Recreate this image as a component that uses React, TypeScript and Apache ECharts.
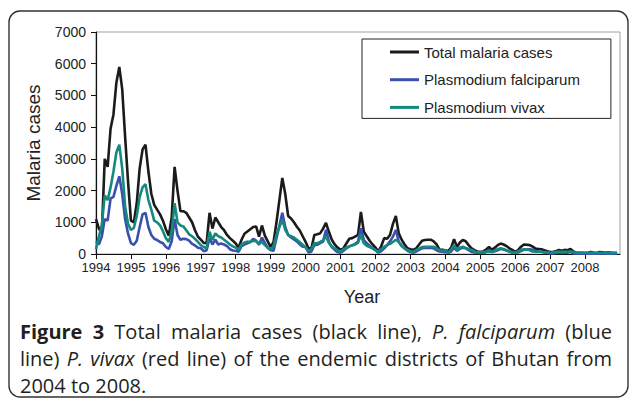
import React, { useEffect, useRef } from 'react';
import * as echarts from 'echarts';

// Year tick labels (one tick per January)
const years = [1994, 1995, 1996, 1997, 1998, 1999, 2000, 2001, 2002, 2003, 2004, 2005, 2006, 2007, 2008];

// Monthly malaria cases, Jan 1994 .. Dec 2008 (12 values per row)
const total = [
  1100, 800, 650, 3000, 2750, 3950, 4400, 5400, 5900, 5200, 3700, 2300,
  1050, 1000, 1600, 2700, 3300, 3450, 2600, 1900, 1550, 1400, 1250, 1050,
  780, 580, 1150, 2750, 2000, 1350, 1350, 1300, 1150, 1000, 750, 550,
  450, 350, 340, 1300, 800, 1150, 1000, 850, 750, 600, 500, 420,
  330, 200, 450, 640, 710, 780, 850, 870, 550, 900, 580, 400,
  220, 380, 1000, 1700, 2400, 1900, 1200, 1120, 1000, 860, 740, 560,
  380, 180, 180, 600, 620, 650, 800, 980, 700, 450, 300, 200,
  130, 180, 330, 480, 500, 550, 600, 1330, 700, 560, 420, 300,
  200, 80, 250, 500, 480, 600, 950, 1200, 650, 450, 300, 180,
  150, 130, 180, 300, 420, 440, 450, 450, 400, 300, 140, 130,
  120, 90, 200, 470, 220, 360, 440, 400, 280, 180, 120, 80,
  70, 80, 140, 220, 130, 200, 280, 330, 300, 250, 180, 130,
  70, 120, 230, 300, 290, 280, 230, 170, 160, 150, 120, 90,
  60, 70, 90, 130, 100, 130, 120, 160, 80, 40, 40, 40,
  30, 40, 60, 40, 30, 60, 50, 40, 50, 40, 30, 30,
];

const falciparum = [
  400, 300, 550, 1100, 1050, 1750, 1800, 2150, 2450, 1900, 1100, 650,
  340, 290, 420, 850, 1250, 1300, 850, 600, 480, 440, 380, 340,
  220, 160, 400, 1100, 600, 450, 480, 470, 420, 320, 270, 200,
  180, 90, 120, 500, 300, 450, 300, 330, 300, 250, 150, 110,
  100, 70, 250, 300, 340, 380, 480, 420, 290, 520, 350, 200,
  120, 100, 500, 900, 1300, 850, 600, 520, 460, 400, 300, 230,
  230, 50, 80, 280, 290, 340, 390, 760, 390, 220, 130, 60,
  40, 100, 180, 240, 280, 320, 390, 810, 440, 340, 260, 180,
  120, 40, 90, 180, 280, 400, 550, 760, 390, 260, 180, 100,
  60, 40, 80, 130, 180, 190, 190, 190, 180, 120, 80, 75,
  60, 40, 80, 200, 100, 160, 200, 180, 120, 70, 50, 40,
  30, 30, 60, 130, 60, 90, 120, 160, 140, 110, 80, 70,
  40, 50, 90, 140, 140, 150, 130, 90, 80, 70, 50, 40,
  20, 20, 30, 50, 30, 50, 40, 70, 20, 10, 10, 10,
  10, 10, 20, 10, 10, 20, 10, 10, 10, 10, 10, 10,
];

const vivax = [
  150, 550, 900, 1850, 1700, 2100, 2600, 3200, 3450, 2700, 1500, 950,
  760, 820, 1200, 1800, 2100, 2200, 1700, 1400, 1050, 1000, 900, 720,
  500, 380, 700, 1600, 1000, 900, 870, 750, 620, 560, 480, 380,
  280, 220, 180, 700, 440, 650, 560, 520, 450, 380, 300, 240,
  200, 140, 300, 360, 390, 380, 420, 400, 330, 380, 280, 200,
  130, 250, 600, 850, 1080, 760, 600, 560, 520, 450, 370, 290,
  200, 90, 150, 340, 340, 380, 430, 550, 350, 240, 180, 110,
  75, 150, 200, 240, 270, 300, 350, 600, 340, 260, 220, 180,
  120, 70, 160, 230, 280, 320, 380, 450, 380, 250, 170, 130,
  90, 70, 120, 170, 220, 230, 230, 230, 230, 180, 120, 100,
  120, 40, 140, 280, 130, 200, 230, 190, 160, 130, 80, 50,
  50, 60, 75, 75, 70, 110, 150, 180, 160, 120, 70, 40,
  40, 80, 130, 150, 140, 120, 80, 70, 70, 70, 60, 50,
  40, 50, 60, 75, 70, 75, 70, 80, 60, 40, 40, 40,
  35, 35, 40, 35, 35, 40, 40, 35, 35, 35, 35, 35,
];

const seriesNames = ['Total malaria cases', 'Plasmodium falciparum', 'Plasmodium vivax'];
const seriesColors = ['#1b1b1b', '#3a4fae', '#14897e'];
const seriesData = [total, falciparum, vivax];

const yAxisTitle = 'Malaria cases';
const xAxisTitle = 'Year';

// Caption words: [text, style] where b = bold, i = italic
const captionLines: [string, string][][] = [
  [['Figure', 'b'], ['3', 'b'], ['Total', ''], ['malaria', ''], ['cases', ''], ['(black', ''], ['line),', ''], ['P.', 'i'], ['falciparum', 'i'], ['(blue', '']],
  [['line)', ''], ['P.', 'i'], ['vivax', 'i'], ['(red', ''], ['line)', ''], ['of', ''], ['the', ''], ['endemic', ''], ['districts', ''], ['of', ''], ['Bhutan', ''], ['from', '']],
  [['2004', ''], ['to', ''], ['2008.', '']],
];

const FONT = '"Liberation Sans", Arial, sans-serif';
const CAP_FONT = '"Open Sans", "Noto Sans", sans-serif';
const CAP_SIZE = 20;

function capFont(st: string) {
  const w = st === 'b' ? 'bold' : 'normal';
  const s = st === 'i' ? 'italic' : 'normal';
  return `${s} ${w} ${CAP_SIZE}px ${CAP_FONT}`;
}

function buildCaption() {
  const canvas = document.createElement('canvas');
  const ctx = canvas.getContext('2d')!;
  const left = 20;
  const right = 612;
  const lineY = [331, 358, 385];
  const els: any[] = [];
  captionLines.forEach((words, li) => {
    const widths = words.map(([t, st]) => {
      ctx.font = capFont(st);
      return ctx.measureText(t).width;
    });
    const sum = widths.reduce((a, b) => a + b, 0);
    ctx.font = capFont('');
    const spaceW = ctx.measureText(' ').width;
    const justify = li < captionLines.length - 1;
    const gap = justify ? (right - left - sum) / (words.length - 1) : spaceW;
    let x = left;
    words.forEach(([t, st], wi) => {
      els.push({
        type: 'text',
        x,
        y: lineY[li],
        style: {
          text: t,
          font: capFont(st),
          fill: '#231f20',
          align: 'left',
          textAlign: 'left',
          verticalAlign: 'middle',
          textVerticalAlign: 'middle',
        },
      });
      x += widths[wi] + gap;
    });
  });
  return els;
}

export default function App() {
  const ref = useRef<HTMLDivElement>(null);

  useEffect(() => {
    if (!ref.current) return;
    const chart = echarts.init(ref.current, undefined, { renderer: 'svg' });
    const monthCount = years.length * 12;

    const option: any = {
      animation: false,
      backgroundColor: '#ffffff',
      textStyle: { fontFamily: FONT },
      grid: {
        left: 96,
        top: 32,
        width: 524,
        height: 222,
        show: true,
        borderColor: '#a0a0a0',
        borderWidth: 1,
        backgroundColor: 'transparent',
      },
      legend: {
        orient: 'vertical',
        left: 362,
        top: 39,
        padding: [5, 31, 3, 28],
        itemWidth: 29,
        itemHeight: 3,
        itemGap: 11.7,
        icon: 'rect',
        borderColor: '#222',
        borderWidth: 1,
        backgroundColor: '#fff',
        textStyle: { fontSize: 15, color: '#222', lineHeight: 16, fontFamily: FONT },
        data: seriesNames,
      },
      xAxis: {
        type: 'value',
        min: 0,
        max: monthCount,
        interval: 12,
        axisLine: { show: true, lineStyle: { color: '#111', width: 1.2 } },
        axisTick: { show: true, length: 5, lineStyle: { color: '#111' } },
        splitLine: { show: false },
        axisLabel: {
          color: '#222',
          fontSize: 13,
          margin: 7,
          showMaxLabel: false,
          formatter: (v: number) => {
            const idx = Math.round(v / 12);
            return idx < years.length ? String(years[idx]) : '';
          },
        },
      },
      yAxis: {
        type: 'value',
        min: 0,
        max: 7000,
        interval: 1000,
        axisLine: { show: true, lineStyle: { color: '#111', width: 1.2 } },
        axisTick: { show: true, length: 5, lineStyle: { color: '#111' } },
        splitLine: { show: false },
        axisLabel: { color: '#222', fontSize: 14, margin: 10, formatter: (v: number) => String(v) },
      },
      series: seriesData.map((arr, si) => ({
        name: seriesNames[si],
        type: 'line',
        data: arr.map((v, i) => [i, v]),
        symbol: 'none',
        showSymbol: false,
        color: seriesColors[si],
        lineStyle: { width: 2.6, color: seriesColors[si] },
        itemStyle: { color: seriesColors[si] },
        z: 2 + si,
      })),
      graphic: [
        {
          type: 'rect',
          z: -10,
          shape: { x: 9, y: 11, width: 619, height: 386, r: 11 },
          style: { fill: 'none', stroke: '#333', lineWidth: 1.4 },
        },
        {
          type: 'text',
          x: 33,
          y: 143,
          rotation: Math.PI / 2,
          style: {
            text: yAxisTitle,
            font: `19px ${FONT}`,
            fill: '#222',
            align: 'center',
            textAlign: 'center',
            verticalAlign: 'middle',
            textVerticalAlign: 'middle',
          },
        },
        {
          type: 'text',
          x: 362,
          y: 297,
          style: {
            text: xAxisTitle,
            font: `18px ${FONT}`,
            fill: '#222',
            align: 'center',
            textAlign: 'center',
            verticalAlign: 'middle',
            textVerticalAlign: 'middle',
          },
        },
        ...buildCaption(),
      ],
    };

    chart.setOption(option);
    return () => chart.dispose();
  }, []);

  return (
    <div
      ref={ref}
      style={{ position: 'absolute', left: 0, top: 0, width: 629, height: 400, background: '#fff' }}
    />
  );
}
